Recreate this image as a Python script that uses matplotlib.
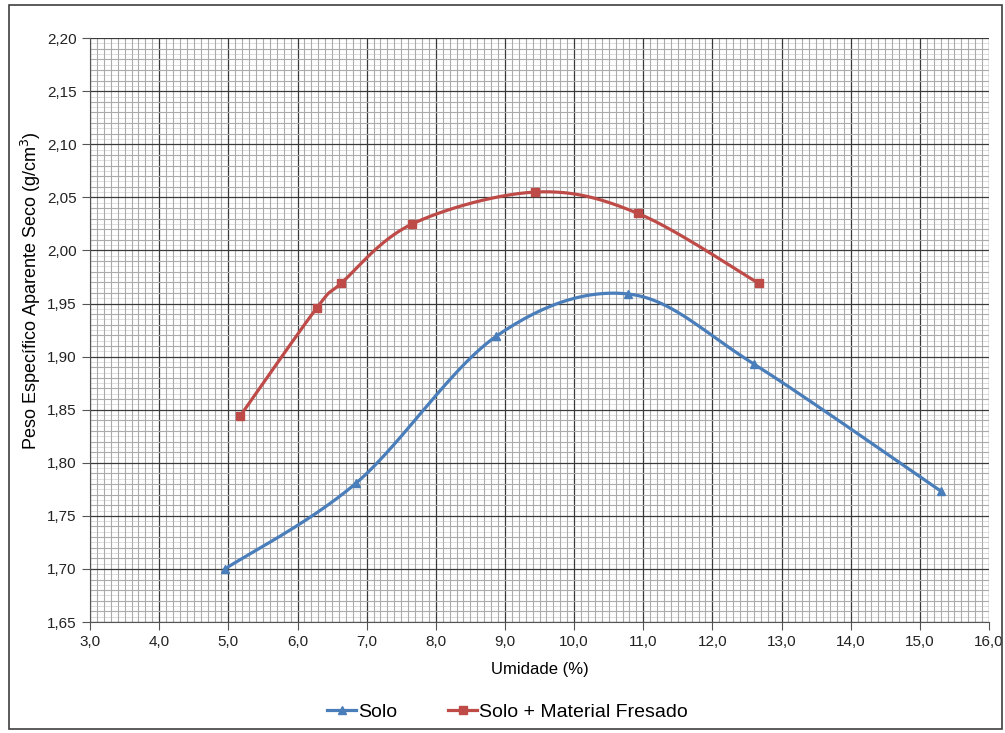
import numpy as np
import matplotlib
matplotlib.use("Agg")
import matplotlib.pyplot as plt
from matplotlib.ticker import MultipleLocator, FuncFormatter
from matplotlib.patches import Rectangle

plt.rcParams['font.family'] = ['Liberation Sans', 'DejaVu Sans']

solo_x = [4.95, 6.85, 8.87, 10.78, 12.60, 15.31]
solo_y = [1.700, 1.781, 1.919, 1.959, 1.893, 1.773]

fresado_x = [5.17, 6.28, 6.63, 7.66, 9.44, 10.92, 12.67]
fresado_y = [1.844, 1.946, 1.969, 2.025, 2.055, 2.035, 1.969]

labels = ["Solo", "Solo + Material Fresado"]
colors = ["#4a7ebb", "#be4b48"]


def smooth(xs, ys, n=30):
    # Excel style smoothed line: Catmull-Rom segments as cubic Bezier
    p = np.column_stack([xs, ys])
    pts = np.vstack([p[0], p, p[-1]])
    out = []
    t = np.linspace(0, 1, n)[:, None]
    for i in range(1, len(pts) - 2):
        p0, p1, p2, p3 = pts[i - 1], pts[i], pts[i + 1], pts[i + 2]
        c1 = p1 + (p2 - p0) / 6
        c2 = p2 - (p3 - p1) / 6
        seg = ((1 - t) ** 3) * p1 + 3 * ((1 - t) ** 2) * t * c1 \
            + 3 * (1 - t) * t ** 2 * c2 + t ** 3 * p2
        out.append(seg if i == 1 else seg[1:])
    seg = np.vstack(out)
    return seg[:, 0], seg[:, 1]


fig = plt.figure(figsize=(10.05, 7.33), dpi=100)
ax = fig.add_axes([0.0896, 0.1514, 0.8945, 0.7966])

fig.patches.append(Rectangle((0.009, 0.006), 0.988, 0.987, transform=fig.transFigure,
                             fill=False, edgecolor="#404040", linewidth=1.2))

for xs, ys, lab, col, mk, ms in [(solo_x, solo_y, labels[0], colors[0], "^", 6),
                                 (fresado_x, fresado_y, labels[1], colors[1], "s", 6)]:
    sx, sy = smooth(xs, ys)
    ax.plot(sx, sy, color=col, linewidth=2.3, zorder=3)
    ax.plot(xs, ys, linestyle="none", marker=mk, markersize=ms, color=col, zorder=4)
    ax.plot([], [], color=col, linewidth=2.3, marker=mk, markersize=ms, label=lab)

ax.set_xlim(3, 16)
ax.set_ylim(1.65, 2.20)
ax.xaxis.set_major_locator(MultipleLocator(1.0))
ax.xaxis.set_minor_locator(MultipleLocator(0.1))
ax.yaxis.set_major_locator(MultipleLocator(0.05))
ax.yaxis.set_minor_locator(MultipleLocator(0.01))
ax.xaxis.set_major_formatter(FuncFormatter(lambda v, p: f"{v:.1f}".replace(".", ",")))
ax.yaxis.set_major_formatter(FuncFormatter(lambda v, p: f"{v:.2f}".replace(".", ",")))

# faint half-step lines between the minor horizontal lines
for yv in np.arange(1.655, 2.20, 0.01):
    ax.axhline(yv, color="#dedede", linewidth=0.7, zorder=0)

ax.grid(which="minor", color="#ababab", linewidth=0.8)
ax.grid(which="major", color="#3a3a3a", linewidth=0.9)
ax.set_axisbelow(True)

for s in ["top", "right"]:
    ax.spines[s].set_visible(False)
for s in ["left", "bottom"]:
    ax.spines[s].set_color("#555555")
ax.tick_params(which="major", direction="out", length=6, color="#555555",
               labelsize=11, labelcolor="#222222")
ax.tick_params(which="minor", length=0)

ax.set_xlabel("Umidade (%)", fontsize=12, labelpad=9)
ax.set_ylabel("Peso Específico Aparente Seco (g/cm$^3$)", fontsize=13)
ax.yaxis.set_label_coords(-0.052, 0.568)

fig.legend(loc="center", bbox_to_anchor=(0.505, 0.028), ncol=2, frameon=False,
           fontsize=14, handlelength=1.5, handletextpad=0.1, columnspacing=2.6)

fig.savefig("out.png", dpi=100)
